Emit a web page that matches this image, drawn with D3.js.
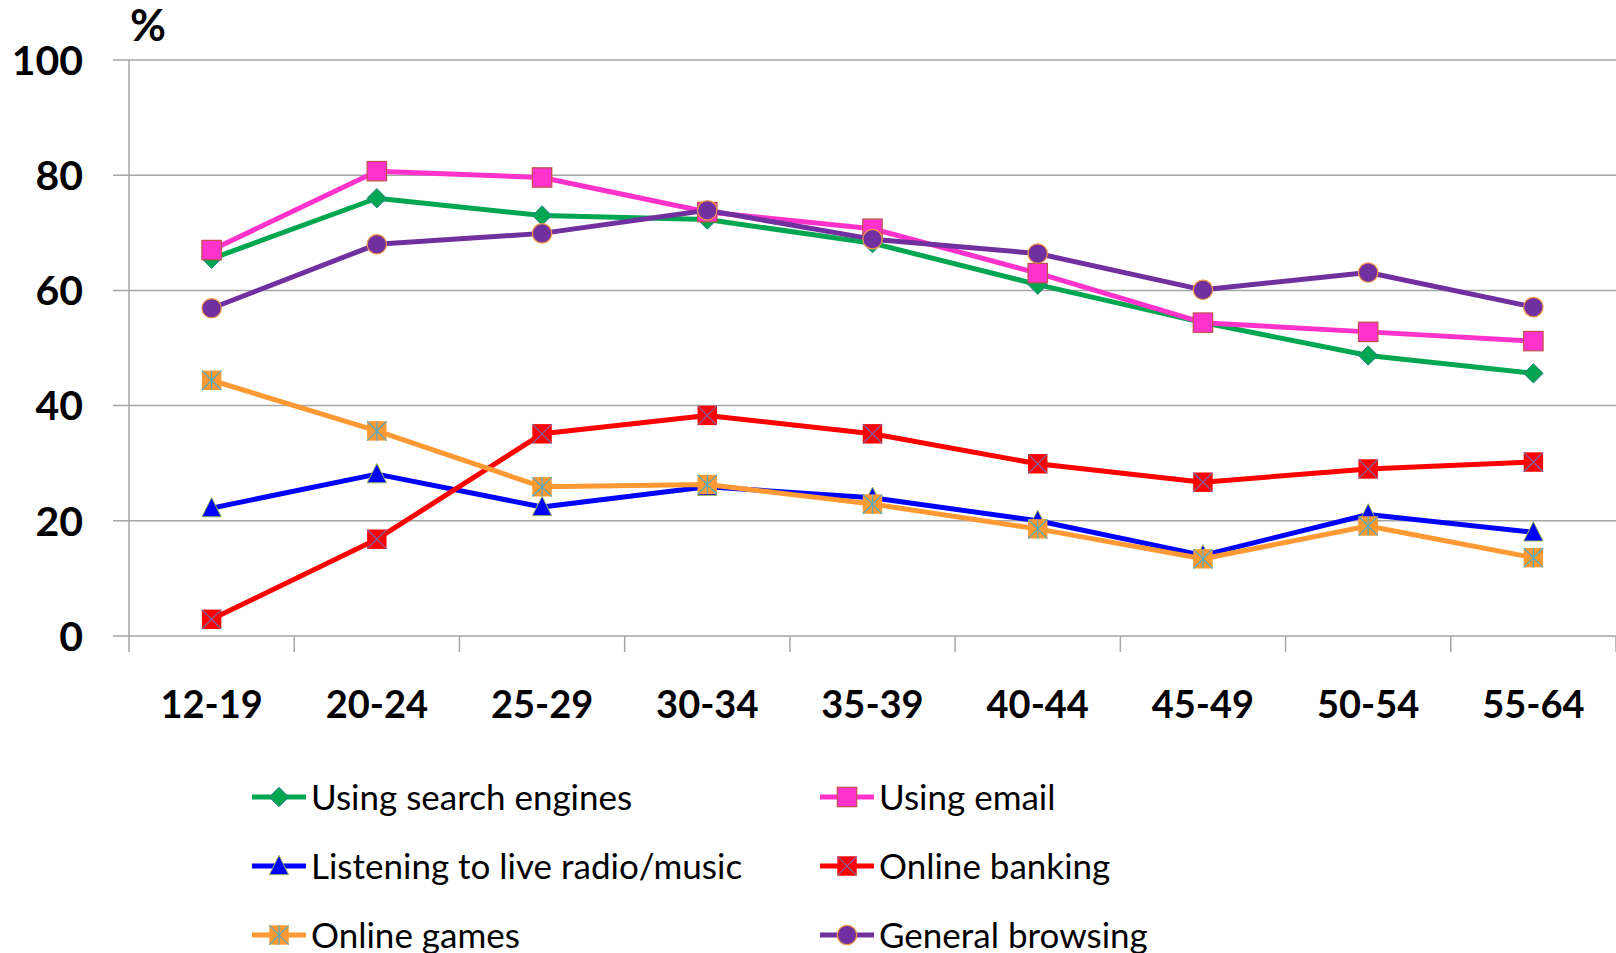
<!DOCTYPE html>
<html><head><meta charset="utf-8">
<script src="https://cdn.jsdelivr.net/npm/d3@7"></script>
<style>html,body{margin:0;padding:0;background:#fff;}svg{display:block;}</style>
</head><body>
<script>
const categories = ["12-19","20-24","25-29","30-34","35-39","40-44","45-49","50-54","55-64"];
const yTicks = [0,20,40,60,80,100];
const seriesNames = ["Using search engines","Using email","Listening to live radio/music","Online banking","Online games","General browsing"];
const searchEngines = [65.5,76,73,72.3,68.2,61,54.4,48.7,45.6];
const email = [67,80.7,79.6,73.6,70.7,63,54.4,52.8,51.2];
const radioMusic = [22.2,28.1,22.4,25.9,24,20,14,21.1,18];
const banking = [2.9,16.8,35.1,38.3,35.1,29.9,26.7,29,30.2];
const games = [44.4,35.6,25.9,26.3,22.9,18.6,13.4,19.1,13.6];
const browsing = [56.9,68,69.9,73.9,68.9,66.4,60.1,63.1,57.1];

(function(){
const W=1616,H=953;
const pL=129,pR=1616,pT=60,pB=636;
const svg=d3.select("body").append("svg").attr("width",W).attr("height",H);
const x=d3.scaleBand().domain(categories).range([pL,pR]).padding(0);
const y=d3.scaleLinear().domain([0,100]).range([pB,pT]);
const FONT="Lato, 'Open Sans', sans-serif";

svg.append("g").selectAll("line").data(yTicks).join("line")
  .attr("x1",pL-16).attr("x2",pR).attr("y1",d=>y(d)).attr("y2",d=>y(d))
  .attr("stroke","#a6a6a6").attr("stroke-width",1.5);
svg.append("line").attr("x1",pL).attr("x2",pL).attr("y1",pT).attr("y2",pB+16)
  .attr("stroke","#a6a6a6").attr("stroke-width",1.5);
const xb=categories.map(c=>x(c)).concat([pR]);
svg.append("g").selectAll("line").data(xb.slice(1)).join("line")
  .attr("x1",d=>d).attr("x2",d=>d).attr("y1",pB).attr("y2",pB+16)
  .attr("stroke","#a6a6a6").attr("stroke-width",1.5);

svg.append("g").selectAll("text").data(yTicks).join("text")
  .attr("x",83).attr("y",d=>y(d)).attr("dy","0.36em").attr("text-anchor","end")
  .attr("font-family",FONT).attr("font-weight","bold").attr("font-size",41).attr("fill","#000")
  .text(d=>d);
svg.append("text").attr("x",130).attr("y",41).attr("font-family",FONT).attr("font-weight","bold")
  .attr("font-size",44).text("%");
svg.append("g").selectAll("text").data(categories).join("text")
  .attr("x",d=>x(d)+x.bandwidth()/2).attr("y",704).attr("dy","0.36em").attr("text-anchor","middle")
  .attr("font-family",FONT).attr("font-weight","bold").attr("font-size",38).text(d=>d);

const series=[
 {name:seriesNames[0],data:searchEngines,color:"#00a650",marker:"diamond",mstroke:"#2a7f8f"},
 {name:seriesNames[1],data:email,color:"#ff33cc",marker:"square",mstroke:"#c0504d"},
 {name:seriesNames[2],data:radioMusic,color:"#0000ff",marker:"triangle",mstroke:"#9bbb59"},
 {name:seriesNames[3],data:banking,color:"#ff0000",marker:"xsquare",mstroke:"#8064a2"},
 {name:seriesNames[4],data:games,color:"#ff9933",marker:"star",mstroke:"#4bacc6"},
 {name:seriesNames[5],data:browsing,color:"#7030a0",marker:"circle",mstroke:"#f79646"}
];

function drawMarker(g,type,cx,cy,fill,stroke){
  const s=9.7;
  if(type==="diamond"){
    g.append("path").attr("d",`M${cx},${cy-s}L${cx+s},${cy}L${cx},${cy+s}L${cx-s},${cy}Z`)
     .attr("fill",fill).attr("stroke",stroke).attr("stroke-width",1);
  } else if(type==="square"){
    g.append("rect").attr("x",cx-s).attr("y",cy-s).attr("width",2*s).attr("height",2*s)
     .attr("fill",fill).attr("stroke",stroke).attr("stroke-width",1.2);
  } else if(type==="triangle"){
    g.append("path").attr("d",`M${cx},${cy-s-1}L${cx+s},${cy+s-1}L${cx-s},${cy+s-1}Z`)
     .attr("fill",fill).attr("stroke",stroke).attr("stroke-width",1);
  } else if(type==="xsquare"){
    g.append("rect").attr("x",cx-s).attr("y",cy-s).attr("width",2*s).attr("height",2*s).attr("fill",fill);
    g.append("path").attr("d",`M${cx-s},${cy-s}L${cx+s},${cy+s}M${cx+s},${cy-s}L${cx-s},${cy+s}`)
     .attr("stroke",stroke).attr("stroke-width",1.2);
  } else if(type==="star"){
    g.append("rect").attr("x",cx-s).attr("y",cy-s).attr("width",2*s).attr("height",2*s).attr("fill",fill);
    g.append("path").attr("d",`M${cx-s},${cy-s}L${cx+s},${cy+s}M${cx+s},${cy-s}L${cx-s},${cy+s}M${cx},${cy-s}L${cx},${cy+s}`)
     .attr("stroke",stroke).attr("stroke-width",1.2);
  } else if(type==="circle"){
    g.append("circle").attr("cx",cx).attr("cy",cy).attr("r",s)
     .attr("fill",fill).attr("stroke",stroke).attr("stroke-width",1.2);
  }
}

const line=d3.line().x((d,i)=>x(categories[i])+x.bandwidth()/2).y(d=>y(d));
series.forEach(s=>{
  const g=svg.append("g");
  g.append("path").attr("d",line(s.data)).attr("fill","none").attr("stroke",s.color)
   .attr("stroke-width",5).attr("stroke-linejoin","round");
  s.data.forEach((v,i)=>drawMarker(g,s.marker,x(categories[i])+x.bandwidth()/2,y(v),s.color,s.mstroke));
});

const legX=[252,820], legY=[797,866,935];
series.forEach((s,i)=>{
  const lx=legX[i%2], ly=legY[Math.floor(i/2)];
  const g=svg.append("g");
  g.append("line").attr("x1",lx).attr("x2",lx+54).attr("y1",ly).attr("y2",ly)
   .attr("stroke",s.color).attr("stroke-width",5);
  drawMarker(g,s.marker,lx+27,ly,s.color,s.mstroke);
  g.append("text").attr("x",lx+59).attr("y",ly).attr("dy","0.36em")
   .attr("font-family",FONT).attr("font-size",35).attr("fill","#000").text(s.name);
});
})();
</script>
</body></html>
